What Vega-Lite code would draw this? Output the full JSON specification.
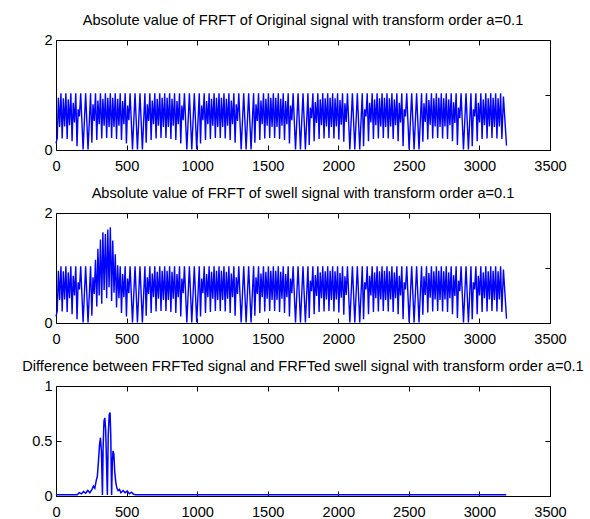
{
  "$schema": "https://vega.github.io/schema/vega-lite/v6.json",
  "padding": {"left": 21, "top": 12, "right": 0, "bottom": 5},
  "bounds": "flush",
  "spacing": 63,
  "config": {
    "view": {"stroke": "#000000", "strokeWidth": 1},
    "font": "Liberation Sans",
    "axis": {"domain": false, "grid": false, "tickColor": "#000000", "tickSize": -5, "labelFont": "Liberation Sans", "labelFontSize": 14.6, "labelColor": "#000000", "labelFlush": false, "labelOverlap": false},
    "axisX": {"labelPadding": 13},
    "axisY": {"labelPadding": 9},
    "title": {"font": "Liberation Sans", "fontSize": 14.6, "fontWeight": "normal", "color": "#000000", "baseline": "alphabetic", "offset": 4, "anchor": "middle"}
  },
  "datasets": {
    "sig": [
      {"x":0,"a":0.12,"b":0.12},{"x":9,"a":0.22,"b":0.22},{"x":17,"a":0.95,"b":0.95},{"x":26,"a":0.42,"b":0.42},
      {"x":35,"a":1.03,"b":1.03},{"x":44,"a":0.21,"b":0.21},{"x":52,"a":0.94,"b":0.94},{"x":61,"a":0.43,"b":0.43},
      {"x":70,"a":1.03,"b":1.03},{"x":79,"a":0.2,"b":0.2},{"x":87,"a":0.92,"b":0.92},{"x":96,"a":0.45,"b":0.45},
      {"x":105,"a":1.03,"b":1.03},{"x":114,"a":0.16,"b":0.16},{"x":122,"a":0.86,"b":0.86},{"x":131,"a":0.5,"b":0.5},
      {"x":140,"a":1.03,"b":1.03},{"x":149,"a":0.07,"b":0.07},{"x":157,"a":0.74,"b":0.74},{"x":166,"a":0.61,"b":0.61},
      {"x":175,"a":1.03,"b":1.03},{"x":192,"a":0.01,"b":0.01},
      {"x":210,"a":1.03,"b":1.03},{"x":227,"a":0.01,"b":0.01},
      {"x":245,"a":1.03,"b":1.03},{"x":254,"a":0.13,"b":0.13},{"x":262,"a":0.83,"b":0.83},{"x":271,"a":0.53,"b":0.53},
      {"x":280,"a":1.03,"b":1.15},{"x":289,"a":0.18,"b":0.3},{"x":297,"a":0.9,"b":1.35},{"x":306,"a":0.47,"b":0.5},
      {"x":315,"a":1.03,"b":1.52},{"x":324,"a":0.21,"b":0.35},{"x":332,"a":0.93,"b":1.65},{"x":341,"a":0.44,"b":0.6},
      {"x":350,"a":1.03,"b":1.62},{"x":359,"a":0.22,"b":0.45},{"x":367,"a":0.95,"b":1.7},{"x":376,"a":0.42,"b":0.65},
      {"x":385,"a":1.03,"b":1.74},{"x":394,"a":0.22,"b":0.4},{"x":402,"a":0.95,"b":1.5},{"x":411,"a":0.42,"b":0.55},
      {"x":420,"a":1.03,"b":1.25},{"x":429,"a":0.2,"b":0.28},{"x":437,"a":0.93,"b":1.05},{"x":446,"a":0.44,"b":0.45},
      {"x":455,"a":1.03,"b":1.03},{"x":464,"a":0.18,"b":0.18},{"x":472,"a":0.89,"b":0.89},{"x":481,"a":0.47,"b":0.47},
      {"x":490,"a":1.03,"b":1.03},{"x":499,"a":0.12,"b":0.12},{"x":507,"a":0.81,"b":0.81},{"x":516,"a":0.54,"b":0.54},
      {"x":525,"a":1.03,"b":1.03},{"x":542,"a":0.01,"b":0.01},
      {"x":560,"a":1.03,"b":1.03},{"x":577,"a":0.01,"b":0.01},
      {"x":595,"a":1.03,"b":1.03},{"x":612,"a":0.01,"b":0.01},
      {"x":630,"a":1.03,"b":1.03},{"x":639,"a":0.13,"b":0.13},{"x":647,"a":0.83,"b":0.83},{"x":656,"a":0.53,"b":0.53},
      {"x":665,"a":1.03,"b":1.03},{"x":674,"a":0.18,"b":0.18},{"x":682,"a":0.9,"b":0.9},{"x":691,"a":0.47,"b":0.47},
      {"x":700,"a":1.03,"b":1.03},{"x":709,"a":0.21,"b":0.21},{"x":717,"a":0.93,"b":0.93},{"x":726,"a":0.44,"b":0.44},
      {"x":735,"a":1.03,"b":1.03},{"x":744,"a":0.22,"b":0.22},{"x":752,"a":0.95,"b":0.95},{"x":761,"a":0.42,"b":0.42},
      {"x":770,"a":1.03,"b":1.03},{"x":779,"a":0.22,"b":0.22},{"x":787,"a":0.95,"b":0.95},{"x":796,"a":0.42,"b":0.42},
      {"x":805,"a":1.03,"b":1.03},{"x":814,"a":0.2,"b":0.2},{"x":822,"a":0.93,"b":0.93},{"x":831,"a":0.44,"b":0.44},
      {"x":840,"a":1.03,"b":1.03},{"x":849,"a":0.18,"b":0.18},{"x":857,"a":0.89,"b":0.89},{"x":866,"a":0.47,"b":0.47},
      {"x":875,"a":1.03,"b":1.03},{"x":884,"a":0.12,"b":0.12},{"x":892,"a":0.81,"b":0.81},{"x":901,"a":0.54,"b":0.54},
      {"x":910,"a":1.03,"b":1.03},{"x":927,"a":0.01,"b":0.01},
      {"x":945,"a":1.03,"b":1.03},{"x":962,"a":0.01,"b":0.01},
      {"x":980,"a":1.03,"b":1.03},{"x":997,"a":0.01,"b":0.01},
      {"x":1015,"a":1.03,"b":1.03},{"x":1024,"a":0.12,"b":0.12},{"x":1032,"a":0.81,"b":0.81},{"x":1041,"a":0.54,"b":0.54},
      {"x":1050,"a":1.03,"b":1.03},{"x":1059,"a":0.18,"b":0.18},{"x":1067,"a":0.89,"b":0.89},{"x":1076,"a":0.47,"b":0.47},
      {"x":1085,"a":1.03,"b":1.03},{"x":1094,"a":0.2,"b":0.2},{"x":1102,"a":0.93,"b":0.93},{"x":1111,"a":0.44,"b":0.44},
      {"x":1120,"a":1.03,"b":1.03},{"x":1129,"a":0.22,"b":0.22},{"x":1137,"a":0.95,"b":0.95},{"x":1146,"a":0.42,"b":0.42},
      {"x":1155,"a":1.03,"b":1.03},{"x":1164,"a":0.22,"b":0.22},{"x":1172,"a":0.95,"b":0.95},{"x":1181,"a":0.42,"b":0.42},
      {"x":1190,"a":1.03,"b":1.03},{"x":1199,"a":0.21,"b":0.21},{"x":1207,"a":0.93,"b":0.93},{"x":1216,"a":0.44,"b":0.44},
      {"x":1225,"a":1.03,"b":1.03},{"x":1234,"a":0.18,"b":0.18},{"x":1242,"a":0.9,"b":0.9},{"x":1251,"a":0.47,"b":0.47},
      {"x":1260,"a":1.03,"b":1.03},{"x":1269,"a":0.13,"b":0.13},{"x":1277,"a":0.83,"b":0.83},{"x":1286,"a":0.53,"b":0.53},
      {"x":1295,"a":1.03,"b":1.03},{"x":1312,"a":0.01,"b":0.01},
      {"x":1330,"a":1.03,"b":1.03},{"x":1347,"a":0.01,"b":0.01},
      {"x":1365,"a":1.03,"b":1.03},{"x":1382,"a":0.01,"b":0.01},
      {"x":1400,"a":1.03,"b":1.03},{"x":1409,"a":0.13,"b":0.13},{"x":1417,"a":0.83,"b":0.83},{"x":1426,"a":0.53,"b":0.53},
      {"x":1435,"a":1.03,"b":1.03},{"x":1444,"a":0.18,"b":0.18},{"x":1452,"a":0.9,"b":0.9},{"x":1461,"a":0.47,"b":0.47},
      {"x":1470,"a":1.03,"b":1.03},{"x":1479,"a":0.21,"b":0.21},{"x":1487,"a":0.93,"b":0.93},{"x":1496,"a":0.44,"b":0.44},
      {"x":1505,"a":1.03,"b":1.03},{"x":1514,"a":0.22,"b":0.22},{"x":1522,"a":0.95,"b":0.95},{"x":1531,"a":0.42,"b":0.42},
      {"x":1540,"a":1.03,"b":1.03},{"x":1549,"a":0.22,"b":0.22},{"x":1557,"a":0.95,"b":0.95},{"x":1566,"a":0.42,"b":0.42},
      {"x":1575,"a":1.03,"b":1.03},{"x":1584,"a":0.2,"b":0.2},{"x":1592,"a":0.93,"b":0.93},{"x":1601,"a":0.44,"b":0.44},
      {"x":1610,"a":1.03,"b":1.03},{"x":1619,"a":0.18,"b":0.18},{"x":1627,"a":0.89,"b":0.89},{"x":1636,"a":0.47,"b":0.47},
      {"x":1645,"a":1.03,"b":1.03},{"x":1654,"a":0.12,"b":0.12},{"x":1662,"a":0.81,"b":0.81},{"x":1671,"a":0.54,"b":0.54},
      {"x":1680,"a":1.03,"b":1.03},{"x":1697,"a":0.01,"b":0.01},
      {"x":1715,"a":1.03,"b":1.03},{"x":1732,"a":0.01,"b":0.01},
      {"x":1750,"a":1.03,"b":1.03},{"x":1767,"a":0.01,"b":0.01},
      {"x":1785,"a":1.03,"b":1.03},{"x":1794,"a":0.09,"b":0.09},{"x":1802,"a":0.77,"b":0.77},{"x":1811,"a":0.58,"b":0.58},
      {"x":1820,"a":1.03,"b":1.03},{"x":1829,"a":0.16,"b":0.16},{"x":1837,"a":0.87,"b":0.87},{"x":1846,"a":0.49,"b":0.49},
      {"x":1855,"a":1.03,"b":1.03},{"x":1864,"a":0.2,"b":0.2},{"x":1872,"a":0.92,"b":0.92},{"x":1881,"a":0.45,"b":0.45},
      {"x":1890,"a":1.03,"b":1.03},{"x":1899,"a":0.21,"b":0.21},{"x":1907,"a":0.94,"b":0.94},{"x":1916,"a":0.43,"b":0.43},
      {"x":1925,"a":1.03,"b":1.03},{"x":1934,"a":0.22,"b":0.22},{"x":1942,"a":0.95,"b":0.95},{"x":1951,"a":0.42,"b":0.42},
      {"x":1960,"a":1.03,"b":1.03},{"x":1969,"a":0.21,"b":0.21},{"x":1977,"a":0.94,"b":0.94},{"x":1986,"a":0.43,"b":0.43},
      {"x":1995,"a":1.03,"b":1.03},{"x":2004,"a":0.19,"b":0.19},{"x":2012,"a":0.91,"b":0.91},{"x":2021,"a":0.46,"b":0.46},
      {"x":2030,"a":1.03,"b":1.03},{"x":2039,"a":0.15,"b":0.15},{"x":2047,"a":0.85,"b":0.85},{"x":2056,"a":0.51,"b":0.51},
      {"x":2065,"a":1.03,"b":1.03},{"x":2082,"a":0.01,"b":0.01},
      {"x":2100,"a":1.03,"b":1.03},{"x":2117,"a":0.01,"b":0.01},
      {"x":2135,"a":1.03,"b":1.03},{"x":2152,"a":0.01,"b":0.01},
      {"x":2170,"a":1.03,"b":1.03},{"x":2179,"a":0.07,"b":0.07},{"x":2187,"a":0.74,"b":0.74},{"x":2196,"a":0.61,"b":0.61},
      {"x":2205,"a":1.03,"b":1.03},{"x":2214,"a":0.16,"b":0.16},{"x":2222,"a":0.86,"b":0.86},{"x":2231,"a":0.5,"b":0.5},
      {"x":2240,"a":1.03,"b":1.03},{"x":2249,"a":0.2,"b":0.2},{"x":2257,"a":0.92,"b":0.92},{"x":2266,"a":0.45,"b":0.45},
      {"x":2275,"a":1.03,"b":1.03},{"x":2284,"a":0.21,"b":0.21},{"x":2292,"a":0.94,"b":0.94},{"x":2301,"a":0.43,"b":0.43},
      {"x":2310,"a":1.03,"b":1.03},{"x":2319,"a":0.22,"b":0.22},{"x":2327,"a":0.95,"b":0.95},{"x":2336,"a":0.42,"b":0.42},
      {"x":2345,"a":1.03,"b":1.03},{"x":2354,"a":0.21,"b":0.21},{"x":2362,"a":0.94,"b":0.94},{"x":2371,"a":0.43,"b":0.43},
      {"x":2380,"a":1.03,"b":1.03},{"x":2389,"a":0.2,"b":0.2},{"x":2397,"a":0.92,"b":0.92},{"x":2406,"a":0.45,"b":0.45},
      {"x":2415,"a":1.03,"b":1.03},{"x":2424,"a":0.16,"b":0.16},{"x":2432,"a":0.86,"b":0.86},{"x":2441,"a":0.5,"b":0.5},
      {"x":2450,"a":1.03,"b":1.03},{"x":2459,"a":0.07,"b":0.07},{"x":2467,"a":0.74,"b":0.74},{"x":2476,"a":0.61,"b":0.61},
      {"x":2485,"a":1.03,"b":1.03},{"x":2502,"a":0.01,"b":0.01},
      {"x":2520,"a":1.03,"b":1.03},{"x":2537,"a":0.01,"b":0.01},
      {"x":2555,"a":1.03,"b":1.03},{"x":2572,"a":0.01,"b":0.01},
      {"x":2590,"a":1.03,"b":1.03},{"x":2599,"a":0.15,"b":0.15},{"x":2607,"a":0.85,"b":0.85},{"x":2616,"a":0.51,"b":0.51},
      {"x":2625,"a":1.03,"b":1.03},{"x":2634,"a":0.19,"b":0.19},{"x":2642,"a":0.91,"b":0.91},{"x":2651,"a":0.46,"b":0.46},
      {"x":2660,"a":1.03,"b":1.03},{"x":2669,"a":0.21,"b":0.21},{"x":2677,"a":0.94,"b":0.94},{"x":2686,"a":0.43,"b":0.43},
      {"x":2695,"a":1.03,"b":1.03},{"x":2704,"a":0.22,"b":0.22},{"x":2712,"a":0.95,"b":0.95},{"x":2721,"a":0.42,"b":0.42},
      {"x":2730,"a":1.03,"b":1.03},{"x":2739,"a":0.21,"b":0.21},{"x":2747,"a":0.94,"b":0.94},{"x":2756,"a":0.43,"b":0.43},
      {"x":2765,"a":1.03,"b":1.03},{"x":2774,"a":0.2,"b":0.2},{"x":2782,"a":0.92,"b":0.92},{"x":2791,"a":0.45,"b":0.45},
      {"x":2800,"a":1.03,"b":1.03},{"x":2809,"a":0.16,"b":0.16},{"x":2817,"a":0.87,"b":0.87},{"x":2826,"a":0.49,"b":0.49},
      {"x":2835,"a":1.03,"b":1.03},{"x":2844,"a":0.09,"b":0.09},{"x":2852,"a":0.77,"b":0.77},{"x":2861,"a":0.58,"b":0.58},
      {"x":2870,"a":1.03,"b":1.03},{"x":2887,"a":0.01,"b":0.01},
      {"x":2905,"a":1.03,"b":1.03},{"x":2922,"a":0.01,"b":0.01},
      {"x":2940,"a":1.03,"b":1.03},{"x":2949,"a":0.07,"b":0.07},{"x":2957,"a":0.74,"b":0.74},{"x":2966,"a":0.61,"b":0.61},
      {"x":2975,"a":1.03,"b":1.03},{"x":2984,"a":0.16,"b":0.16},{"x":2992,"a":0.86,"b":0.86},{"x":3001,"a":0.5,"b":0.5},
      {"x":3010,"a":1.03,"b":1.03},{"x":3019,"a":0.2,"b":0.2},{"x":3027,"a":0.92,"b":0.92},{"x":3036,"a":0.45,"b":0.45},
      {"x":3045,"a":1.03,"b":1.03},{"x":3054,"a":0.21,"b":0.21},{"x":3062,"a":0.94,"b":0.94},{"x":3071,"a":0.43,"b":0.43},
      {"x":3080,"a":1.03,"b":1.03},{"x":3089,"a":0.22,"b":0.22},{"x":3097,"a":0.95,"b":0.95},{"x":3106,"a":0.42,"b":0.42},
      {"x":3115,"a":1.03,"b":1.03},{"x":3124,"a":0.21,"b":0.21},{"x":3132,"a":0.94,"b":0.94},{"x":3141,"a":0.43,"b":0.43},
      {"x":3150,"a":1.03,"b":1.03},{"x":3159,"a":0.2,"b":0.2},{"x":3170,"a":0.97,"b":0.97},{"x":3192,"a":0.08,"b":0.08}
    ],
    "diff": [
      {"x":0,"d":0.012},{"x":150,"d":0.012},{"x":165,"d":0.03},{"x":180,"d":0.02},{"x":195,"d":0.04},{"x":210,"d":0.025},
      {"x":225,"d":0.05},{"x":240,"d":0.03},{"x":255,"d":0.06},{"x":265,"d":0.09},{"x":275,"d":0.07},{"x":285,"d":0.14},
      {"x":293,"d":0.18},{"x":300,"d":0.3},{"x":308,"d":0.46},{"x":315,"d":0.53},{"x":322,"d":0.4},{"x":329,"d":0.01},
      {"x":334,"d":0.45},{"x":340,"d":0.68},{"x":346,"d":0.71},{"x":352,"d":0.6},{"x":358,"d":0.3},{"x":364,"d":0.01},
      {"x":370,"d":0.55},{"x":377,"d":0.74},{"x":383,"d":0.76},{"x":388,"d":0.55},{"x":394,"d":0.01},{"x":399,"d":0.3},
      {"x":404,"d":0.41},{"x":410,"d":0.38},{"x":416,"d":0.22},{"x":424,"d":0.12},{"x":432,"d":0.07},{"x":440,"d":0.05},
      {"x":450,"d":0.06},{"x":460,"d":0.03},{"x":475,"d":0.05},{"x":490,"d":0.03},{"x":505,"d":0.045},{"x":520,"d":0.02},
      {"x":535,"d":0.035},{"x":550,"d":0.015},{"x":565,"d":0.012},{"x":3190,"d":0.012}
    ]
  },
  "vconcat": [
    {
      "width": 494, "height": 110,
      "title": {"text": "Absolute value of FRFT of Original signal with transform order a=0.1"},
      "data": {"name": "sig"},
      "layer": [
        {
          "mark": {"type": "line", "color": "#0000ff", "strokeWidth": 1.4},
          "encoding": {
            "x": {"field": "x", "type": "quantitative", "scale": {"domain": [0, 3500], "nice": false}, "axis": {"title": null, "values": [0,500,1000,1500,2000,2500,3000,3500], "format": "d"}},
            "y": {"field": "a", "type": "quantitative", "scale": {"domain": [0, 2], "nice": false}, "axis": {"title": null, "values": [0,1,2], "format": "d"}}
          }
        },
        {
          "mark": {"type": "line", "opacity": 0},
          "encoding": {
            "x": {"field": "x", "type": "quantitative", "axis": {"orient": "top", "title": null, "labels": false, "values": [0,500,1000,1500,2000,2500,3000,3500]}},
            "y": {"field": "a", "type": "quantitative", "axis": {"orient": "right", "title": null, "labels": false, "values": [0,1,2]}}
          }
        }
      ],
      "resolve": {"axis": {"x": "independent", "y": "independent"}}
    },
    {
      "width": 494, "height": 110,
      "title": {"text": "Absolute value of FRFT of swell signal with transform order a=0.1"},
      "data": {"name": "sig"},
      "layer": [
        {
          "mark": {"type": "line", "color": "#0000ff", "strokeWidth": 1.4},
          "encoding": {
            "x": {"field": "x", "type": "quantitative", "scale": {"domain": [0, 3500], "nice": false}, "axis": {"title": null, "values": [0,500,1000,1500,2000,2500,3000,3500], "format": "d"}},
            "y": {"field": "b", "type": "quantitative", "scale": {"domain": [0, 2], "nice": false}, "axis": {"title": null, "values": [0,1,2], "format": "d"}}
          }
        },
        {
          "mark": {"type": "line", "opacity": 0},
          "encoding": {
            "x": {"field": "x", "type": "quantitative", "axis": {"orient": "top", "title": null, "labels": false, "values": [0,500,1000,1500,2000,2500,3000,3500]}},
            "y": {"field": "b", "type": "quantitative", "axis": {"orient": "right", "title": null, "labels": false, "values": [0,1,2]}}
          }
        }
      ],
      "resolve": {"axis": {"x": "independent", "y": "independent"}}
    },
    {
      "width": 494, "height": 110,
      "title": {"text": "Difference between FRFTed signal and FRFTed swell signal with transform order a=0.1"},
      "data": {"name": "diff"},
      "layer": [
        {
          "mark": {"type": "line", "color": "#0000ff", "strokeWidth": 1.5},
          "encoding": {
            "x": {"field": "x", "type": "quantitative", "scale": {"domain": [0, 3500], "nice": false}, "axis": {"title": null, "values": [0,500,1000,1500,2000,2500,3000,3500], "format": "d"}},
            "y": {"field": "d", "type": "quantitative", "scale": {"domain": [0, 1], "nice": false}, "axis": {"title": null, "values": [0,0.5,1], "format": "~g"}}
          }
        },
        {
          "mark": {"type": "line", "opacity": 0},
          "encoding": {
            "x": {"field": "x", "type": "quantitative", "axis": {"orient": "top", "title": null, "labels": false, "values": [0,500,1000,1500,2000,2500,3000,3500]}},
            "y": {"field": "d", "type": "quantitative", "axis": {"orient": "right", "title": null, "labels": false, "values": [0,0.5,1]}}
          }
        }
      ],
      "resolve": {"axis": {"x": "independent", "y": "independent"}}
    }
  ]
}
